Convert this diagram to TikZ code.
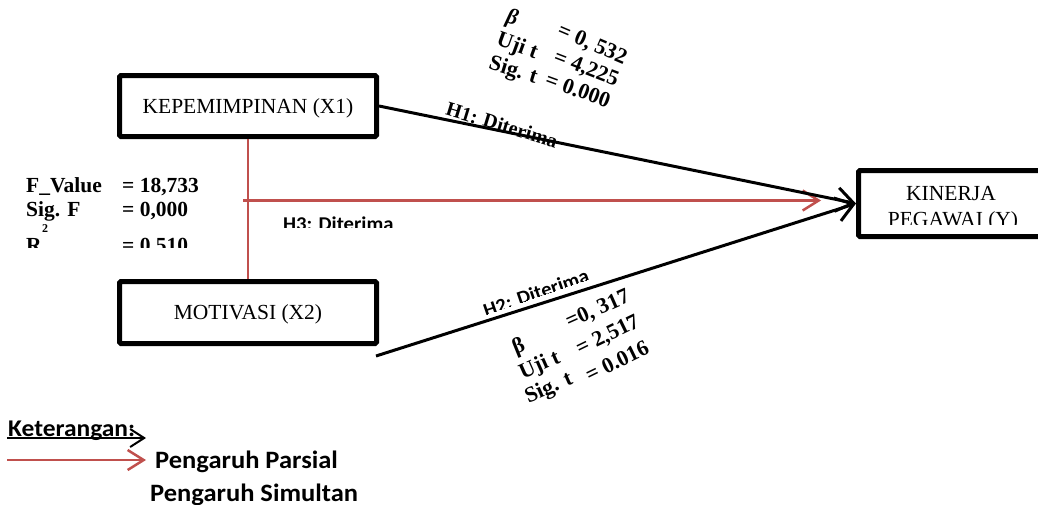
\documentclass[tikz,border=0pt]{standalone}
\usepackage{fontspec}
\setmainfont{Liberation Serif}
\newfontfamily\cbfont[FakeStretch=1.06]{Carlito}
\usetikzlibrary{arrows.meta}
\definecolor{pred}{HTML}{C0504D}
\begin{document}
\begin{tikzpicture}[x=1pt,y=-1pt,
  box/.style={draw,line width=5pt,rounded corners=1.5pt,inner sep=0pt,
    text height=14pt,text depth=0pt,font=\fontsize{21.5}{25}\selectfont},
  stat/.style={inner sep=0pt,anchor=base west,font=\bfseries\fontsize{21.5}{25}\selectfont},
  rt/.style={inner sep=0pt,font=\bfseries\fontsize{22}{26}\selectfont},
  cb/.style={inner sep=0pt,font=\cbfont\bfseries\fontsize{#1}{#1}\selectfont},
  boxtext/.style={inner sep=0pt,anchor=base,font=\fontsize{21.5}{25}\selectfont},
  conn/.style={line width=3pt,-{Straight Barb[length=17pt,width=24pt]}},
  rconn/.style={pred,line width=2.5pt,-{Straight Barb[length=16pt,width=20pt]}}
]
\useasboundingbox (0,0) rectangle (1038,504);

% boxes
\node[box,minimum width=257pt,minimum height=61pt] (X1) at (248,106) {KEPEMIMPINAN (X1)};
\node[box,minimum width=257pt,minimum height=62pt] (X2) at (248,312.5) {MOTIVASI (X2)};
\node[box,minimum width=189pt,minimum height=66pt] (Y) at (953,203.5) {};
\begin{scope}
\clip (862,175) rectangle (1030,224.5);
\node[boxtext] (Yt1) at (951,200) {KINERJA};
\node[boxtext] (Yt2) at (953,226) {PEGAWAI (Y)};
\end{scope}

% left statistics
\node[stat] (FV) at (26,192) {F\_Value};
\node[stat] (FVv) at (122,192) {= 18,733};
\node[stat] (SF) at (26,216) {Sig. F};
\node[stat] (SFv) at (122,216) {= 0,000};
\node[inner sep=0pt,font=\bfseries\fontsize{12}{12}\selectfont] (R2sup) at (45,228.5) {2};
\begin{scope}
\clip (0,234) rectangle (300,247.5);
\node[stat] (Rr) at (26,252) {R};
\node[stat] (Rv) at (122,252) {= 0,510};
\end{scope}

% H labels
\begin{scope}
\clip (270,205) rectangle (420,227);
\node[cb=19.5,anchor=base west] (H3) at (283,230) {H3: Diterima};
\end{scope}
\node[rt,rotate=-17,font=\bfseries\fontsize{20}{24}\selectfont] (H1) at (502,125) {H1: Diterima};
\begin{scope}[shift={(536,293)},rotate=19]
\clip (-62,-16) rectangle (62,4);
\node[cb=19.5,transform shape] (H2) at (0,0) {H2: Diterima};
\end{scope}

% top statistics block
\node[rt,rotate=-15] (tB) at (512,19) {\itshape β};
\node[rt,rotate=-23] (tBv) at (592,45) {= 0, 532};
\node[rt,rotate=-20] (tU) at (517,47) {Uji t};
\node[rt,rotate=-21] (tUv) at (586,69) {= 4,225};
\node[rt,rotate=-17] (tS) at (513,71) {Sig. t};
\node[rt,rotate=-20] (tSv) at (578,90) {= 0.000};

% bottom statistics block
\node[rt,rotate=22] (bB) at (519,347) {β};
\node[rt,rotate=24] (bBv) at (598,310) {=0, 317};
\node[rt,rotate=24] (bU) at (540,366) {Uji t};
\node[rt,rotate=26] (bUv) at (608,336) {= 2,517};
\node[rt,rotate=24] (bS) at (549,389) {Sig. t};
\node[rt,rotate=26] (bSv) at (617,361) {= 0.016};

% connectors
\draw[pred,line width=2pt] (X1.south) -- (X2.north);
\coordinate (R0) at (243,200.5);
\coordinate (R1) at (821,200.5);
\draw[rconn] (R0) -- (R1);
\draw[conn] (X1.east) -- (Y.west);
\coordinate (H2s) at (376,356);
\draw[conn] (H2s) -- (Y.west);

% legend
\node[cb=24,anchor=base west] (Ket) at (8,436) {Keterangan:};
\coordinate (L1a) at (7,438);
\coordinate (L1b) at (146,438);
\draw[line width=2pt,-{Straight Barb[length=14pt,width=18pt]}] (L1a) -- (L1b);
\coordinate (L2a) at (7,460);
\coordinate (L2b) at (146,460);
\draw[rconn] (L2a) -- (L2b);
\node[cb=25,anchor=base west] (PP) at (155,468) {Pengaruh Parsial};
\node[cb=25,anchor=base west] (PS) at (150,501) {Pengaruh Simultan};
\end{tikzpicture}
\end{document}
